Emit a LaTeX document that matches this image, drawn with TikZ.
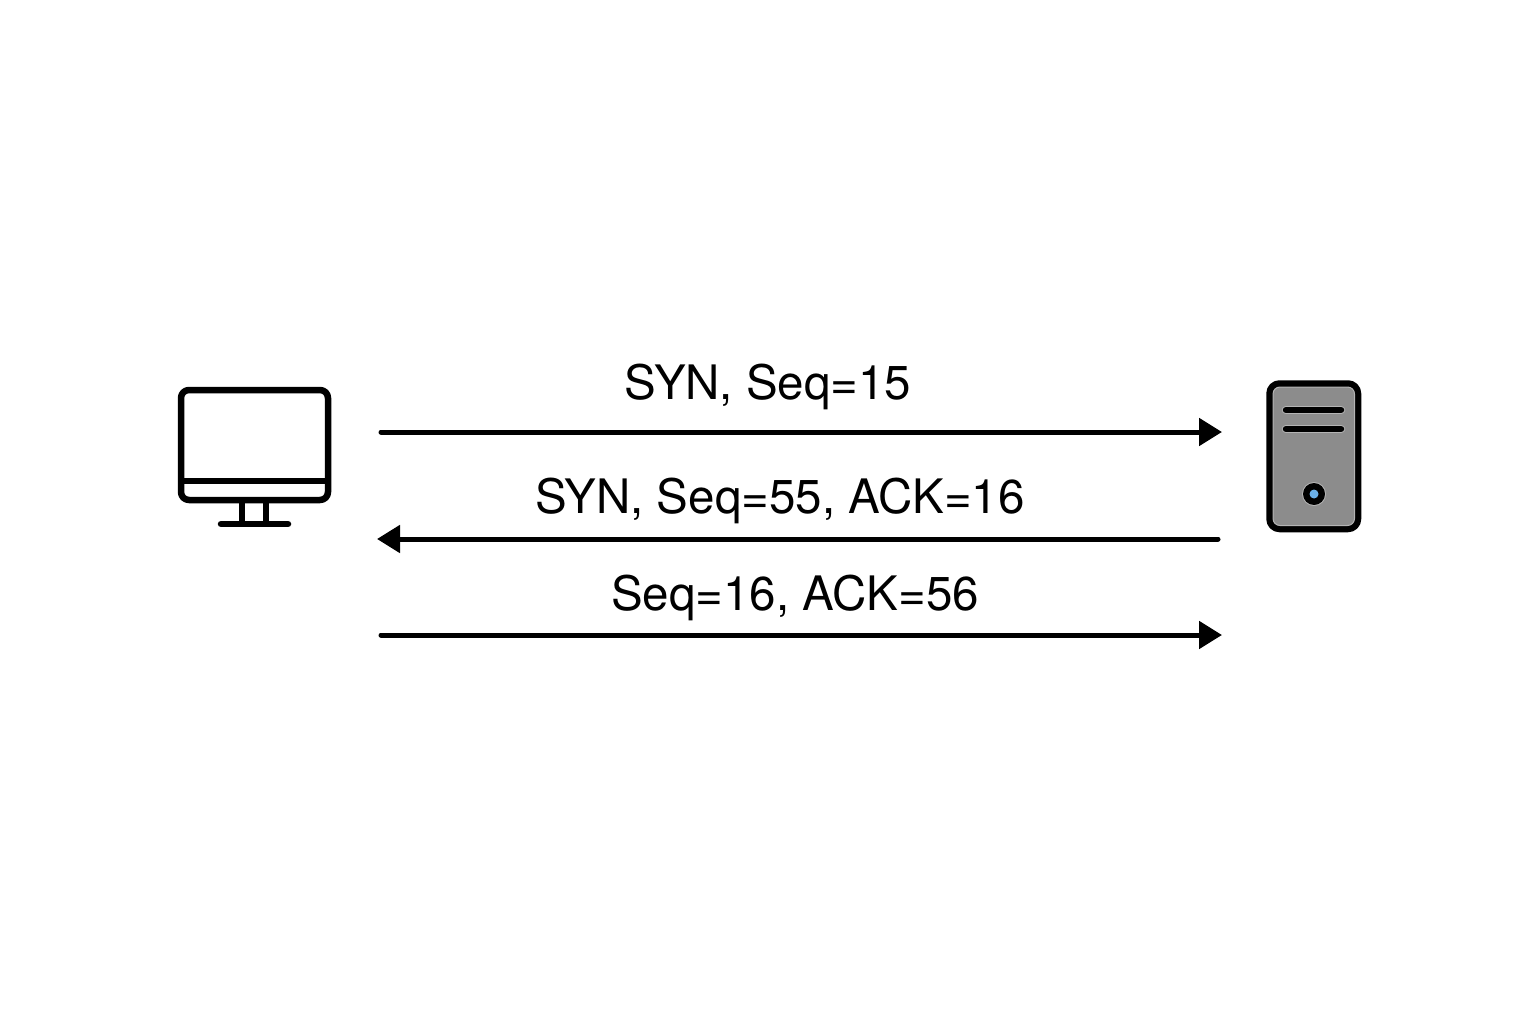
\documentclass[tikz,border=0pt]{standalone}
\usepackage{fontspec}
\setmainfont{TeX Gyre Heros}
\usetikzlibrary{arrows.meta}
\definecolor{srv}{HTML}{8C8C8C}
\definecolor{rim}{HTML}{B4B4B4}
\definecolor{led}{HTML}{6AB0E8}
\tikzset{
  icon/.style={draw=black,line width=6.5pt,line join=round},
  msg/.style={draw=black,line width=5pt,line cap=round,-{Triangle[length=23pt,width=27pt]}},
  lbl/.style={anchor=base,inner sep=0pt,text=black,font=\fontsize{47.5}{47.5}\selectfont},
  x=1pt,y=-1pt
}
\begin{document}
\begin{tikzpicture}
\useasboundingbox[fill=white] (0,0) rectangle (1536,1024);
% monitor
\draw[icon,rounded corners=8pt] (181,390) rectangle (328,500);
\draw[icon] (181,481) -- (328,481);
\draw[icon] (242,500) -- (242,524);
\draw[icon] (266,500) -- (266,524);
\draw[icon,line cap=round] (221,524) -- (288,524);
% server
\draw[icon,fill=srv,rounded corners=10pt] (1269.5,383.5) rectangle (1358,529);
\draw[rim,line width=1pt,rounded corners=7pt] (1273,387) rectangle (1354.5,525.5);
\draw[rim,line width=8.5pt,line cap=round] (1286,410) -- (1341,410);
\draw[rim,line width=8.5pt,line cap=round] (1286,429) -- (1341,429);
\draw[black,line width=6.5pt,line cap=round] (1286,410) -- (1341,410);
\draw[black,line width=6.5pt,line cap=round] (1286,429) -- (1341,429);
\fill[rim] (1314,494) circle (12);
\fill[black] (1314,494) circle (11);
\fill[led] (1314,494) circle (4.5);
% connector ends
\coordinate (c1) at (381,432); \coordinate (s1) at (1222,432);
\coordinate (s2) at (1218,539); \coordinate (c2) at (377,539);
\coordinate (c3) at (381,635); \coordinate (s3) at (1222,635);
\draw[msg] (c1) -- (s1);
\draw[msg] (s2) -- (c2);
\draw[msg] (c3) -- (s3);
% labels
\node[lbl] (t1) at (768,399) {SYN, Seq=15};
\node[lbl] (t2) at (780,513) {SYN, Seq=55, ACK=16};
\node[lbl] (t3) at (795,610) {Seq=16, ACK=56};
\end{tikzpicture}
\end{document}
